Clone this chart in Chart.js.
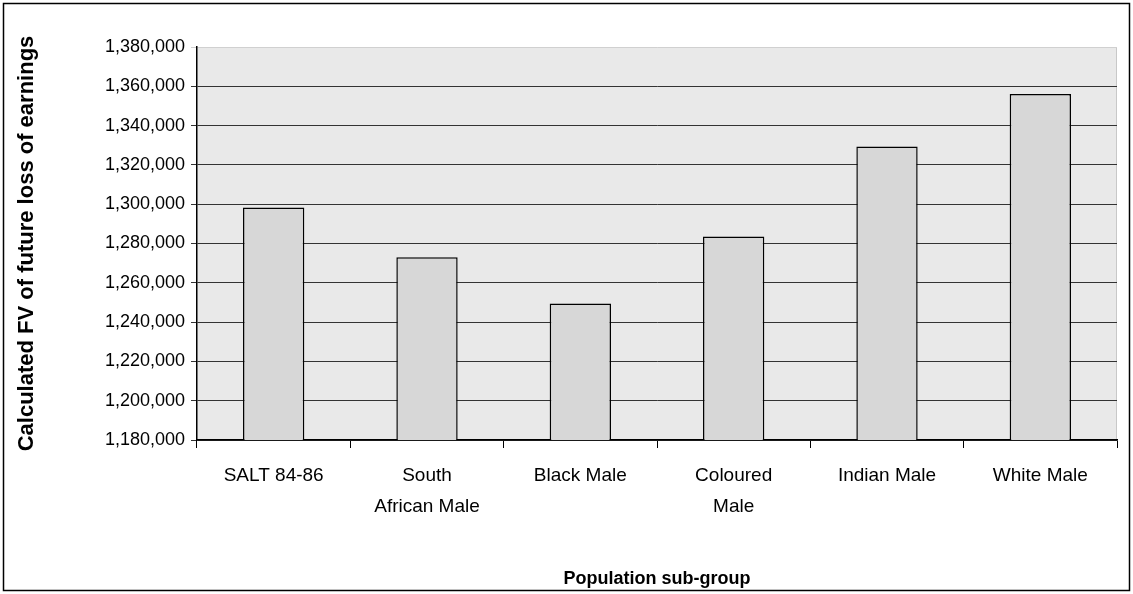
<!DOCTYPE html>
<html>
<head>
<meta charset="utf-8">
<script src="https://cdn.jsdelivr.net/npm/chart.js@4"></script>
<style>
  html, body { margin: 0; padding: 0; background: #fff; }
  #wrap { width: 1133px; height: 594px; position: relative; }
</style>
</head>
<body>
<div id="wrap"><canvas id="myChart"></canvas></div>
<script>
// categories and values
const groups = ["SALT 84-86", ["South", "African Male"], "Black Male", ["Coloured", "Male"], "Indian Male", "White Male"];
const fvValues = [1298300, 1273000, 1249500, 1283600, 1329400, 1356100];
const yMin = 1180000;
const yMax = 1380000;
const yStep = 20000;

const font = "'Liberation Sans', Arial, sans-serif";

// plot background + outer frame
const frame = {
	id: "frame",
	beforeDraw(chart) {
		const { ctx, chartArea: a } = chart;
		ctx.save();
		ctx.fillStyle = "#e9e9e9";
		ctx.fillRect(a.left, a.top, a.right - a.left, a.bottom - a.top);
		ctx.strokeStyle = "#c8c8c8";
		ctx.lineWidth = 1;
		ctx.beginPath();
		ctx.moveTo(a.right - 0.5, a.top);
		ctx.lineTo(a.right - 0.5, a.bottom);
		ctx.stroke();
		ctx.restore();
	},
	afterDraw(chart) {
		const { ctx } = chart;
		ctx.save();
		ctx.strokeStyle = "#000";
		ctx.lineWidth = 1.5;
		ctx.strokeRect(3.5, 3.5, 1126, 587);
		ctx.restore();
	},
};

const data = {
	labels: groups,
	datasets: [
		{
			data: fvValues,
			backgroundColor: "#d7d7d7",
			borderColor: "#000",
			borderWidth: 1.5,
			borderSkipped: false,
			categoryPercentage: 1,
			barPercentage: 0.4,
		},
	],
};

const options = {
	responsive: true,
	maintainAspectRatio: false,
	animation: false,
	layout: { padding: { top: 47, right: 16, left: 0, bottom: 0 } },
	plugins: { legend: { display: false }, tooltip: { enabled: false } },
	scales: {
		x: {
			offset: true,
			grid: {
				offset: true,
				drawOnChartArea: false,
				drawTicks: true,
				tickLength: 8,
				color: "#000",
			},
			border: { color: "#000", width: 1.5 },
			ticks: {
				color: "#000",
				font: { family: font, size: 19, lineHeight: 1.65 },
				padding: 12,
				maxRotation: 0,
				autoSkip: false,
			},
			title: {
				display: true,
				text: "Population sub-group",
				color: "#000",
				font: { family: font, size: 18, weight: "bold" },
				padding: { top: 0, bottom: 4 },
			},
			afterFit(scale) { scale.height = 154; },
		},
		y: {
			min: yMin,
			max: yMax,
			grid: {
				color: (c) => (c.tick && c.tick.value === yMax ? "#d0d0d0" : "#333"),
				lineWidth: 1,
				drawTicks: true,
				tickLength: 6,
			},
			border: { color: "#000", width: 1.5 },
			ticks: {
				stepSize: yStep,
				color: "#000",
				padding: 6,
				font: { family: font, size: 18 },
				callback: (v) => v.toLocaleString("en-US"),
			},
			title: {
				display: true,
				text: "Calculated FV of future loss of earnings",
				color: "#000",
				font: { family: font, size: 22, weight: "bold" },
				padding: { top: 14, bottom: 0 },
			},
			afterFit(scale) { scale.width = 197; },
		},
	},
};

new Chart(document.getElementById("myChart"), {
	type: "bar",
	data: data,
	options: options,
	plugins: [frame],
});
</script>
</body>
</html>
